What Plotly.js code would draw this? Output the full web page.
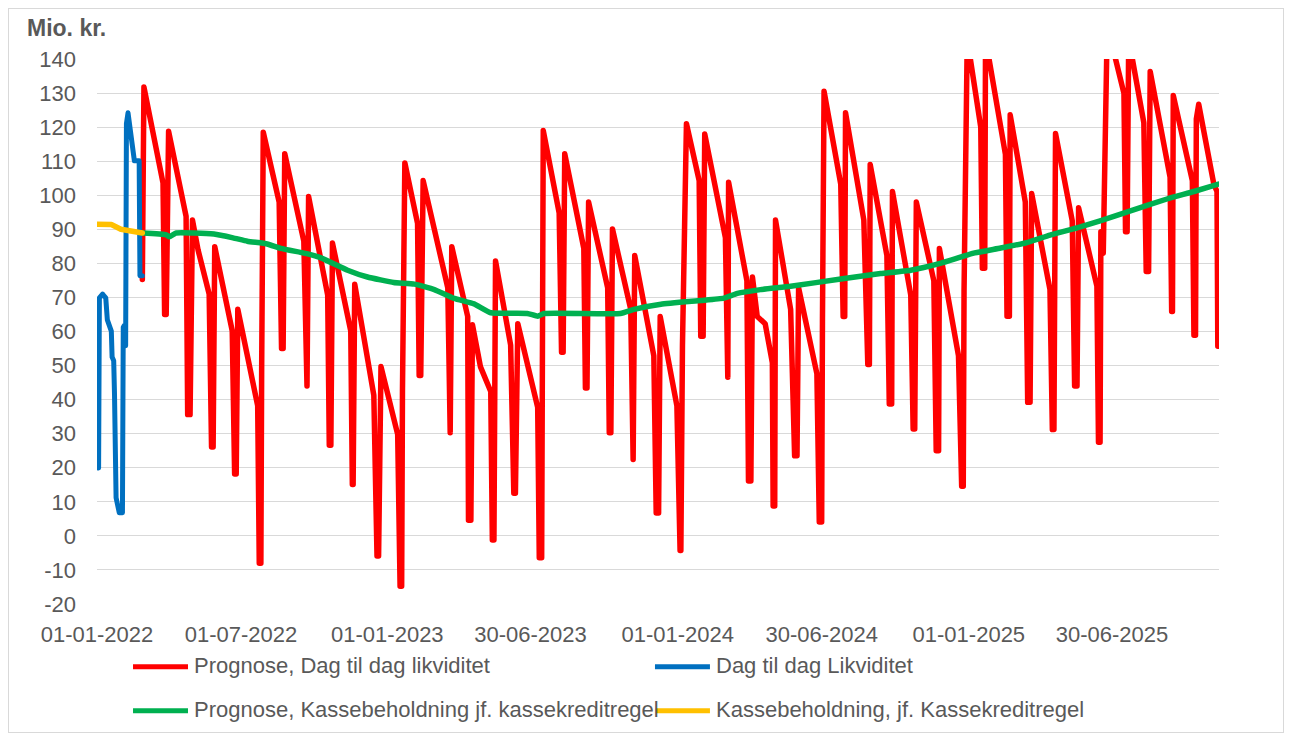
<!DOCTYPE html>
<html>
<head>
<meta charset="utf-8">
<script src="https://cdn.plot.ly/plotly-3.0.1.min.js"></script>
<style>
  html, body { margin: 0; padding: 0; background: #ffffff; }
  #chart { position: absolute; left: 0; top: 0; width: 1290px; height: 740px; }
  #frame { position: absolute; left: 8px; top: 8px; width: 1274px; height: 723px; border: 1px solid #d9d9d9; pointer-events: none; }
  .scatterlayer path.js-line { stroke-linejoin: round !important; stroke-linecap: round !important; }
</style>
</head>
<body>
<div id="chart"></div>
<div id="frame"></div>
<script>
// ---------- DATA ----------
const seriesNames = [
  'Prognose, Dag til dag likviditet',
  'Dag til dag Likviditet',
  'Prognose, Kassebeholdning jf. kassekreditregel',
  'Kassebeholdning, jf. Kassekreditregel'
];

const xTickDates  = ['2022-01-01','2022-07-01','2023-01-01','2023-06-30','2024-01-01','2024-06-30','2025-01-01','2025-06-30'];
const xTickLabels = ['01-01-2022','01-07-2022','01-01-2023','30-06-2023','01-01-2024','30-06-2024','01-01-2025','30-06-2025'];

const yTickVals   = [-20,-10,0,10,20,30,40,50,60,70,80,90,100,110,120,130,140];
const yTickLabels = ['-20','-10','0','10','20','30','40','50','60','70','80','90','100','110','120','130','140'];

const yAxisTitle = 'Mio. kr.';

// Dag til dag Likviditet (realised, blue)
const blueDates = ['2022-01-03','2022-01-04','2022-01-08','2022-01-12','2022-01-14','2022-01-19','2022-01-20','2022-01-22','2022-01-23','2022-01-25','2022-01-29','2022-02-02','2022-02-03','2022-02-04','2022-02-06','2022-02-07','2022-02-09','2022-02-12','2022-02-15','2022-02-17','2022-02-23','2022-02-24','2022-02-27'];
const blueValues = [19.9,69.9,71,69.9,63.4,60.1,52.5,51.4,41.6,11.2,6.8,6.8,61.2,61.7,55.8,121,124.2,117.7,114.5,110.1,110.1,76.4,76.4];

// Kassebeholdning, jf. Kassekreditregel (realised, yellow)
const yellowDates = ['2022-01-01','2022-01-19','2022-01-31','2022-02-09','2022-02-27'];
const yellowValues = [91.5,91.4,90.0,89.5,88.9];

// Prognose, Dag til dag likviditet (forecast, red)
const redDates = [
'2022-02-27','2022-03-01','2022-03-25','2022-03-27','2022-03-29','2022-04-01','2022-04-23','2022-04-25','2022-04-28','2022-05-01',
'2022-05-08','2022-05-22','2022-05-25','2022-05-27','2022-05-29','2022-06-20','2022-06-23','2022-06-25','2022-06-27','2022-07-22',
'2022-07-24','2022-07-26','2022-07-27','2022-07-29','2022-08-18','2022-08-21','2022-08-23','2022-08-25','2022-09-18','2022-09-21',
'2022-09-22','2022-09-24','2022-10-18','2022-10-20','2022-10-22','2022-10-24','2022-11-16','2022-11-18','2022-11-19','2022-11-21',
'2022-12-15','2022-12-19','2022-12-21','2022-12-24','2023-01-14','2023-01-17','2023-01-19','2023-01-20','2023-01-23','2023-02-08',
'2023-02-10','2023-02-12','2023-02-15','2023-03-18','2023-03-20','2023-03-21','2023-03-23','2023-04-12','2023-04-13','2023-04-16',
'2023-04-18','2023-04-28','2023-05-11','2023-05-13','2023-05-15','2023-05-17','2023-06-05','2023-06-09','2023-06-11','2023-06-14',
'2023-07-09','2023-07-11','2023-07-14','2023-07-15','2023-07-16','2023-08-05','2023-08-08','2023-08-10','2023-08-12','2023-09-05',
'2023-09-07','2023-09-09','2023-09-11','2023-10-05','2023-10-07','2023-10-09','2023-10-11','2023-11-03','2023-11-05','2023-11-06',
'2023-11-08','2023-12-02','2023-12-05','2023-12-08','2023-12-10','2023-12-31','2024-01-04','2024-01-05','2024-01-07','2024-01-12',
'2024-01-28','2024-01-30','2024-02-02','2024-02-04','2024-03-01','2024-03-03','2024-03-04','2024-03-05','2024-03-28','2024-03-30',
'2024-04-02','2024-04-04','2024-04-10','2024-04-20','2024-04-29','2024-04-30','2024-05-02','2024-05-03','2024-05-22','2024-05-27',
'2024-05-30','2024-06-01','2024-06-24','2024-06-27','2024-06-30','2024-07-01','2024-07-03','2024-07-24','2024-07-27','2024-07-29',
'2024-07-30','2024-08-22','2024-08-27','2024-08-29','2024-08-30','2024-09-20','2024-09-23','2024-09-26','2024-09-27','2024-10-20',
'2024-10-23','2024-10-25','2024-10-27','2024-11-18','2024-11-21','2024-11-24','2024-11-25','2024-12-19','2024-12-23','2024-12-25',
'2024-12-26','2024-12-30','2025-01-16','2025-01-18','2025-01-21','2025-01-22','2025-02-16','2025-02-18','2025-02-21','2025-02-22',
'2025-03-13','2025-03-16','2025-03-19','2025-03-21','2025-04-13','2025-04-16','2025-04-18','2025-04-20','2025-05-11','2025-05-14',
'2025-05-17','2025-05-19','2025-06-11','2025-06-13','2025-06-15','2025-06-16','2025-06-19','2025-06-24','2025-07-15','2025-07-17',
'2025-07-19','2025-07-21','2025-08-09','2025-08-12','2025-08-15','2025-08-17','2025-09-11','2025-09-13','2025-09-14','2025-09-15',
'2025-10-09','2025-10-11','2025-10-13','2025-10-14','2025-10-17','2025-11-05','2025-11-09','2025-11-10','2025-11-11'];
const redValues = [
75.3,131.8,103.6,65,65,118.8,93.8,35.6,35.6,92.7,
84,71,26.1,26.1,84.9,60.2,18.2,18.2,66.5,38.2,
-8,-8,48.7,118.5,98,55,55,112.2,86.5,44,
44,99.6,70.7,26.6,26.6,86,60.2,15.1,15.1,73.9,
41.3,-5.9,-5.9,49.7,29.8,-14.8,-14.8,42.4,109.5,91.7,
47.1,47.1,104.3,72.8,30.3,30.3,84.9,64.4,4.6,4.6,
62,49.7,42.4,-1.2,-1.2,80.7,56,12.5,12.5,62.3,
37.7,-6.4,-6.4,49.7,119,94.8,53.9,53.9,112.2,84.4,
43.4,43.4,98,72.8,30.3,30.3,90.1,66.5,22.4,22.4,
82.3,52.9,6.7,6.7,64.4,38.2,-4.3,-4.3,56,121,
104.3,58.6,58.6,118,87.5,46.6,46.6,103.8,74.9,16.1,
16.1,76,64.4,62.3,50.8,8.8,8.8,92.7,66.5,23.5,
23.5,72.8,47.6,4.1,4.1,63.4,130.5,103.2,64.4,64.4,
124.2,92.7,50.3,50.3,109,82.3,38.7,38.7,101.1,70.7,
31.4,31.4,98,74.9,25,25,84.4,52.9,14.6,14.6,
71.8,146,120,78.6,78.6,146,112,64.5,64.5,123.6,
98,39.2,39.2,100.5,72.3,31.2,31.2,118.1,92.5,44,
44,96.3,73.3,27.5,27.5,89.3,83,150,129.9,89.3,
89.3,146,121.3,77.6,77.6,136.3,105.3,65.9,65.9,129.3,
104.3,58.9,58.9,122.4,126.7,103.2,101.1,55.7,55.7];

// Prognose, Kassebeholdning jf. kassekreditregel (forecast, green)
const greenDates = ['2022-02-27','2022-03-29','2022-04-02','2022-04-10','2022-05-03','2022-05-28','2022-06-21','2022-07-09','2022-08-03','2022-08-20',
'2022-09-23','2022-10-09','2022-11-12','2022-12-07','2023-01-09','2023-02-04','2023-03-01','2023-03-26','2023-04-20','2023-05-11',
'2023-06-26','2023-07-09','2023-07-17','2023-10-21','2023-11-07','2023-12-11','2024-01-30','2024-02-28','2024-03-16','2024-04-14',
'2024-05-22','2024-07-24','2024-09-12','2024-10-20','2024-11-26','2025-01-07','2025-02-10','2025-03-15','2025-04-13','2025-05-17',
'2025-06-15','2025-07-27','2025-09-07','2025-10-11','2025-11-11'];
const greenValues = [88.9,88.4,87.8,88.9,88.9,88.6,87.5,86.5,85.7,84.4,
82.8,81.7,78.0,76.0,74.4,73.9,72.3,69.7,68.1,65.5,
65.3,64.5,65.3,65.3,66.5,68.0,69.1,69.8,71.2,72.3,
73.3,75.4,77.0,78.0,80.0,83.0,84.5,86.1,88.3,90.4,
92.5,95.7,98.9,101.1,103.3];

// ---------- STYLE ----------
const colors = ['#FF0000', '#0070C0', '#00B050', '#FFC000'];
const FONT = 'Liberation Sans, Arial, sans-serif';
const TXT = '#595959';

const traces = [
  {x: redDates, y: redValues, name: seriesNames[0], mode: 'lines', line: {color: colors[0], width: 5.5}, showlegend: false, hoverinfo: 'skip'},
  {x: blueDates, y: blueValues, name: seriesNames[1], mode: 'lines', line: {color: colors[1], width: 5}, showlegend: false, hoverinfo: 'skip'},
  {x: greenDates, y: greenValues, name: seriesNames[2], mode: 'lines', line: {color: colors[2], width: 5.5, shape: 'spline', smoothing: 0.4}, showlegend: false, hoverinfo: 'skip'},
  {x: yellowDates, y: yellowValues, name: seriesNames[3], mode: 'lines', line: {color: colors[3], width: 5.5}, showlegend: false, hoverinfo: 'skip'}
];

// custom legend (2 x 2 grid) drawn in paper coordinates
const legRows = [-0.115, -0.196];
const legCols = [0.0321, 0.4973];
const legLen = 0.049;
const legTextDx = 0.0526;
const shapes = [];
const annotations = [];
seriesNames.forEach((nm, i) => {
  const r = Math.floor(i / 2), c = i % 2;
  shapes.push({type: 'line', xref: 'paper', yref: 'paper',
    x0: legCols[c], x1: legCols[c] + legLen, y0: legRows[r], y1: legRows[r],
    line: {color: colors[i], width: 5}});
  annotations.push({xref: 'paper', yref: 'paper', x: legCols[c] + legTextDx, y: legRows[r] + 0.003,
    xanchor: 'left', yanchor: 'middle', showarrow: false, text: nm,
    font: {family: FONT, size: 22, color: TXT}});
});
annotations.push({xref: 'paper', yref: 'paper', x: -0.0642, y: 1.057, xanchor: 'left', yanchor: 'middle',
  showarrow: false, text: '<b>' + yAxisTitle + '</b>', font: {family: FONT, size: 23, color: TXT}});

const layout = {
  width: 1290, height: 740,
  margin: {l: 97, r: 71, t: 59, b: 136, pad: 0},
  paper_bgcolor: '#ffffff', plot_bgcolor: '#ffffff',
  showlegend: false,
  font: {family: FONT, size: 22, color: TXT},
  xaxis: {
    type: 'date', range: ['2022-01-01', '2025-11-11 12:00'],
    tickmode: 'array', tickvals: xTickDates, ticktext: xTickLabels,
    showgrid: false, zeroline: false, showline: false, ticks: '',
    tickfont: {family: FONT, size: 22, color: TXT}, ticklabelstandoff: 15
  },
  yaxis: {
    range: [-20, 140], tickmode: 'array', tickvals: yTickVals, ticktext: yTickLabels,
    showgrid: true, gridcolor: '#d9d9d9', gridwidth: 1,
    zeroline: false, showline: false, ticks: '',
    tickfont: {family: FONT, size: 22, color: TXT}, ticklabelstandoff: 20
  },
  shapes: shapes,
  annotations: annotations
};

Plotly.newPlot('chart', traces, layout, {staticPlot: true, displayModeBar: false});
</script>
</body>
</html>
